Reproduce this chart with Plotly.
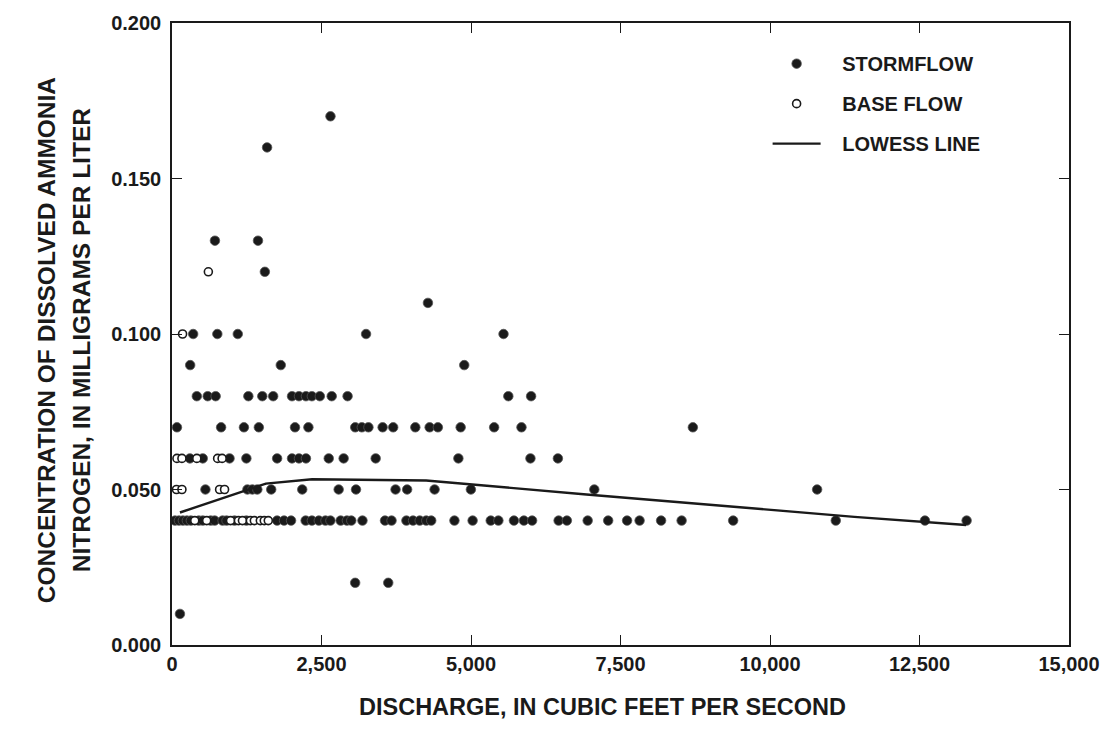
import plotly.graph_objects as go

# ---- data (discharge in cfs, concentration in mg/L) ----
storm_170 = [2650]
storm_160 = [1590]
storm_130 = [718, 1438]
storm_120 = [1553]
storm_110 = [4280]
storm_100 = [354, 758, 1100, 3245, 5544]
storm_090 = [304, 1819, 4887]
storm_080 = [415, 597, 730, 1277, 1510, 1692, 2007, 2123, 2240, 2339, 2472, 2671, 2936, 5624, 6005]
storm_070 = [83, 821, 1203, 1452, 2057, 2281, 3064, 3174, 3285, 3522, 3699, 4069, 4308, 4446, 4827,
             5387, 5844, 8710]
storm_060 = [299, 514, 962, 1244, 1758, 2007, 2123, 2240, 2621, 2870, 3406, 4789, 5994, 6453]
storm_050 = [559, 1261, 1344, 1427, 1659, 2178, 2787, 3077, 3738, 3932, 4391, 4998, 7062, 10788]
storm_040 = [50, 116, 182, 249, 315, 448, 514, 647, 713, 846, 912, 1045, 1244, 1758, 1874, 1991,
             2235, 2339, 2455, 2566, 2649, 2820, 2925, 2998, 3185, 3562, 3671, 3920, 4031, 4142,
             4252, 4335, 4723, 5027, 5330, 5458, 5718, 5884, 6022, 6465, 6603, 6951, 7294, 7610,
             7819, 8179, 8522, 9384, 11100, 12591, 13288]
storm_020 = [3063, 3616]
storm_010 = [133]

base_120 = [608]
base_100 = [177]
base_060 = [83, 166, 415, 763, 838]
base_050 = [75, 166, 796, 879]
base_040 = [381, 580, 979, 1111, 1178, 1311, 1377, 1477, 1543, 1610]

lowess_x = [133, 1570, 2343, 4250, 6932, 11410, 13280]
lowess_y = [0.0426, 0.0519, 0.0533, 0.0529, 0.0484, 0.0412, 0.0386]

x_ticks = [0, 2500, 5000, 7500, 10000, 12500, 15000]
x_tick_labels = ["0", "2,500", "5,000", "7,500", "10,000", "12,500", "15,000"]
y_ticks = [0.0, 0.05, 0.10, 0.15, 0.20]
y_tick_labels = ["0.000", "0.050", "0.100", "0.150", "0.200"]

storm_levels = [(0.170, storm_170), (0.160, storm_160), (0.130, storm_130), (0.120, storm_120),
                (0.110, storm_110), (0.100, storm_100), (0.090, storm_090), (0.080, storm_080),
                (0.070, storm_070), (0.060, storm_060), (0.050, storm_050), (0.040, storm_040),
                (0.020, storm_020), (0.010, storm_010)]
base_levels = [(0.120, base_120), (0.100, base_100), (0.060, base_060), (0.050, base_050),
               (0.040, base_040)]

sx, sy = [], []
for c, xs in storm_levels:
    sx += xs
    sy += [c] * len(xs)
bx, by = [], []
for c, xs in base_levels:
    bx += xs
    by += [c] * len(xs)

FONT = "Liberation Sans, Arial, sans-serif"
INK = "#1a1a1a"
NB = "\u00a0" * 3

fig = go.Figure()
fig.add_trace(go.Scatter(
    x=sx, y=sy, mode="markers", name=NB + "<b>STORMFLOW</b>", legendgroup="a",
    marker=dict(symbol="circle", size=9.5, color=INK, line=dict(width=0.8, color="#555")),
))
fig.add_trace(go.Scatter(
    x=bx, y=by, mode="markers", name=NB + "<b>BASE FLOW</b>", legendgroup="b",
    marker=dict(symbol="circle", size=8, color="white", line=dict(width=1.6, color=INK)),
))
fig.add_trace(go.Scatter(
    x=lowess_x, y=lowess_y, mode="lines", name=NB + "<b>LOWESS LINE</b>", legendgroup="c",
    line=dict(color=INK, width=2.4),
))

axis_common = dict(
    showline=True, linecolor=INK, linewidth=1.6, mirror="ticks",
    ticks="inside", ticklen=10, tickwidth=1.4, tickcolor=INK,
    showgrid=False, zeroline=False,
    tickfont=dict(family=FONT, size=20, color=INK, weight="bold"),
)

fig.update_layout(
    width=1112, height=751,
    margin=dict(l=172, r=39, t=18, b=106),
    paper_bgcolor="white", plot_bgcolor="white",
    font=dict(family=FONT, color=INK),
    xaxis=dict(range=[0, 15000], tickmode="array", tickvals=x_ticks, ticktext=x_tick_labels,
               **axis_common),
    yaxis=dict(range=[0, 0.2], tickmode="array", tickvals=y_ticks, ticktext=y_tick_labels,
               ticklabelstandoff=5, **axis_common),
    legend=dict(x=0.664, y=0.966, xanchor="left", yanchor="top", bgcolor="rgba(0,0,0,0)",
                font=dict(family=FONT, size=20, color=INK), traceorder="grouped",
                tracegroupgap=11, itemwidth=48),
    showlegend=True,
    annotations=[
        dict(text="<b>DISCHARGE, IN CUBIC FEET PER SECOND</b>", xref="paper", yref="paper",
             x=0.48, y=0, yshift=-62, xanchor="center", yanchor="middle", showarrow=False,
             font=dict(family=FONT, size=23.5, color=INK)),
        dict(text="<b>CONCENTRATION OF DISSOLVED AMMONIA</b>", xref="paper", yref="paper",
             x=0, xshift=-126, y=0.49, xanchor="center", yanchor="middle", showarrow=False,
             textangle=-90, font=dict(family=FONT, size=24.5, color=INK)),
        dict(text="<b>NITROGEN, IN MILLIGRAMS PER LITER</b>", xref="paper", yref="paper",
             x=0, xshift=-91, y=0.49, xanchor="center", yanchor="middle", showarrow=False,
             textangle=-90, font=dict(family=FONT, size=24.5, color=INK)),
    ],
)

fig.write_html("out.html")
